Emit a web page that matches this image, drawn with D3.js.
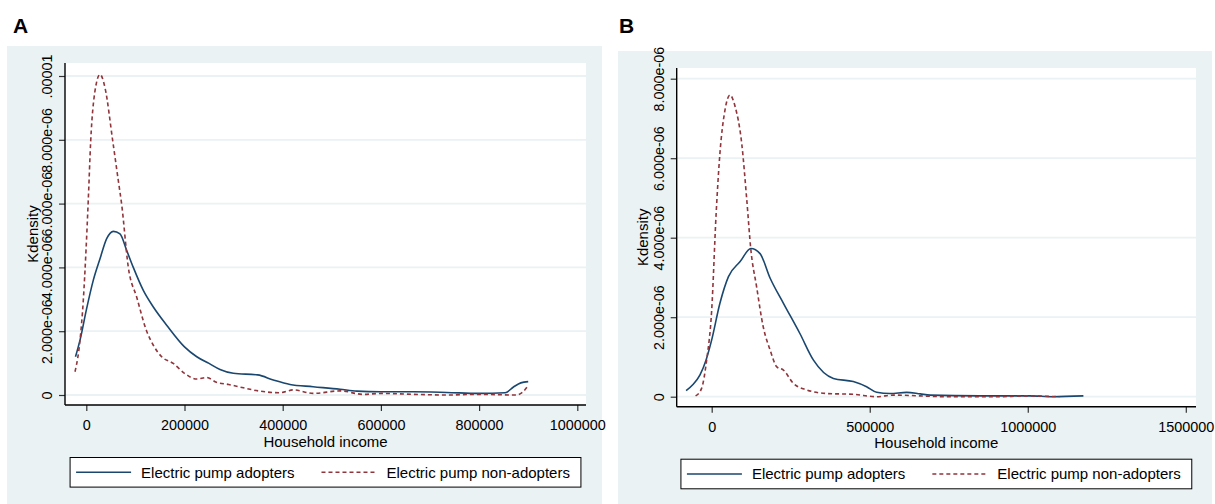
<!DOCTYPE html>
<html>
<head>
<meta charset="utf-8">
<script src="https://cdn.jsdelivr.net/npm/d3@7"></script>
<style>
  body { margin: 0; background: #fff; }
  text { font-family: "Liberation Sans", Arial, sans-serif; }
</style>
</head>
<body>
<div id="viz"></div>
<script>
// kernel densities of household income, adopters vs non-adopters
// densities are in units of 1e-6

// panel A
const incomeA_adopt = [-22000, -12800, 0, 14300, 27900, 41500, 55100, 68600, 82300, 95700, 116100, 136500, 163700, 200000, 225000, 250000, 272300, 299500, 349000, 380900, 414900, 462000, 517000, 551000, 600000, 666000, 734000, 800000, 853000, 870000, 885000, 900000];
const densA_adopt = [1.2, 1.72, 2.66, 3.6, 4.27, 4.9, 5.13, 5.05, 4.53, 4.0, 3.28, 2.76, 2.19, 1.51, 1.2, 0.99, 0.8, 0.68, 0.63, 0.47, 0.33, 0.26, 0.18, 0.12, 0.1, 0.1, 0.08, 0.05, 0.07, 0.25, 0.38, 0.42];
const incomeA_non = [-23000, -12800, -6100, -600, 4000, 9000, 17700, 28000, 38100, 53800, 65200, 72000, 85600, 102600, 123000, 136500, 153500, 177000, 200000, 225000, 245000, 265000, 290000, 310000, 350000, 394000, 422000, 462000, 517000, 564000, 600000, 666000, 734000, 800000, 876000, 888000, 900000];
const densA_non = [0.73, 1.72, 2.97, 4.53, 6.1, 7.97, 9.53, 10.05, 9.63, 7.97, 6.72, 5.98, 4.0, 3.07, 2.0, 1.56, 1.2, 0.99, 0.68, 0.5, 0.55, 0.4, 0.33, 0.26, 0.13, 0.07, 0.16, 0.05, 0.13, 0.02, 0.05, 0.02, 0.0, 0.02, 0.0, 0.08, 0.3];

// panel B
const incomeB_adopt = [-81000, -60000, -37000, -18000, 0, 26000, 53000, 90000, 124000, 153000, 185000, 227000, 279000, 322000, 385000, 448000, 490000, 522000, 564000, 617000, 660000, 691000, 849000, 1007000, 1080000, 1176000];
const densB_adopt = [0.15, 0.3, 0.55, 0.92, 1.43, 2.35, 3.02, 3.4, 3.73, 3.6, 2.98, 2.35, 1.59, 0.92, 0.46, 0.38, 0.25, 0.11, 0.08, 0.11, 0.07, 0.04, 0.02, 0.02, 0.0, 0.02];
const incomeB_non = [-51000, -32000, -16000, 0, 14000, 26000, 42000, 58000, 74000, 95000, 111000, 124000, 142000, 163000, 185000, 206000, 227000, 258000, 301000, 364000, 448000, 522000, 575000, 744000, 902000, 997000, 1100000];
const densB_non = [0.02, 0.21, 0.92, 2.18, 4.6, 6.12, 7.21, 7.59, 7.3, 6.37, 4.95, 3.69, 2.77, 1.76, 1.17, 0.75, 0.67, 0.34, 0.17, 0.08, 0.06, 0.0, 0.04, 0.0, 0.0, 0.02, 0.0];

const xTicksA = [0, 200000, 400000, 600000, 800000, 1000000];
const yTicksA = [0, 2, 4, 6, 8, 10];
const yLabelsA = ["0", "2.000e-06", "4.000e-06", "6.000e-06", "8.000e-06", ".00001"];
const xTicksB = [0, 500000, 1000000, 1500000];
const yTicksB = [0, 2, 4, 6, 8];
const yLabelsB = ["0", "2.000e-06", "4.000e-06", "6.000e-06", "8.000e-06"];

const seriesNames = ["Electric pump adopters", "Electric pump non-adopters"];
const xTitle = "Household income";
const yTitle = "Kdensity";

const colors = { adopt: "#1a476f", non: "#90353b", region: "#eaf2f3", grid: "#eaf2f3" };
const fontSize = 15;
const tickFont = 14.4;

const svg = d3.select('#viz').append('svg')
    .attr('width', 1215)
    .attr('height', 504);

function drawPanel(p) {
    const g = svg.append('g');

    g.append('text')
        .attr('x', p.letterX)
        .attr('y', 33)
        .attr('font-size', 21)
        .attr('font-weight', 'bold')
        .text(p.letter);

    // graph region
    g.append('rect')
        .attr('x', p.region[0]).attr('y', p.region[1])
        .attr('width', p.region[2] - p.region[0])
        .attr('height', p.region[3] - p.region[1])
        .attr('fill', colors.region);

    const [left, top, right, bottom] = p.plot;
    g.append('rect')
        .attr('x', left).attr('y', top)
        .attr('width', right - left).attr('height', bottom - top)
        .attr('fill', '#fff');

    const xScale = d3.scaleLinear().domain(p.xDomain).range(p.xRange);
    const yScale = d3.scaleLinear().domain(p.yDomain).range(p.yRange);

    // grid
    g.append('g').selectAll('line')
        .data(p.yTicks)
        .join('line')
        .attr('x1', left).attr('x2', right)
        .attr('y1', d => yScale(d)).attr('y2', d => yScale(d))
        .attr('stroke', colors.grid)
        .attr('stroke-width', 1.8);

    // curves
    const line = d3.line()
        .x(d => xScale(d[0]))
        .y(d => yScale(d[1]))
        .curve(d3.curveMonotoneX);

    g.append('path')
        .datum(d3.zip(p.adoptX, p.adoptY))
        .attr('fill', 'none')
        .attr('stroke', colors.adopt)
        .attr('stroke-width', 1.6)
        .attr('d', line);

    g.append('path')
        .datum(d3.zip(p.nonX, p.nonY))
        .attr('fill', 'none')
        .attr('stroke', colors.non)
        .attr('stroke-width', 1.6)
        .attr('stroke-dasharray', '4,3')
        .attr('d', line);

    // y axis
    const yAxis = g.append('g')
        .attr('transform', `translate(${left},0)`)
        .call(d3.axisLeft(yScale)
            .tickValues(p.yTicks)
            .tickFormat((d, i) => p.yLabels[i])
            .tickSize(6)
            .tickSizeOuter(0));
    yAxis.select('.domain').remove();
    yAxis.selectAll('.tick line').attr('stroke', '#333').attr('stroke-width', 1.2);
    yAxis.selectAll('.tick text')
        .attr('transform', 'rotate(-90)')
        .attr('text-anchor', 'middle')
        .attr('x', 0)
        .attr('y', -13)
        .attr('dy', 0)
        .attr('font-size', tickFont)
        .attr('font-family', '"Liberation Sans", Arial, sans-serif')
        .attr('fill', '#000');
    g.append('line')
        .attr('x1', left).attr('x2', left)
        .attr('y1', top).attr('y2', bottom)
        .attr('stroke', '#000').attr('stroke-width', 1.4);

    // x axis
    const xAxis = g.append('g')
        .attr('transform', `translate(0,${bottom})`)
        .call(d3.axisBottom(xScale)
            .tickValues(p.xTicks)
            .tickFormat(d3.format('d'))
            .tickSize(6)
            .tickSizeOuter(0));
    xAxis.select('.domain').remove();
    xAxis.selectAll('.tick line').attr('stroke', '#333').attr('stroke-width', 1.2);
    xAxis.selectAll('.tick text')
        .attr('y', 25)
        .attr('dy', 0)
        .attr('font-size', tickFont)
        .attr('font-family', '"Liberation Sans", Arial, sans-serif')
        .attr('fill', '#000');
    g.append('line')
        .attr('x1', left).attr('x2', right)
        .attr('y1', bottom).attr('y2', bottom)
        .attr('stroke', '#000').attr('stroke-width', 1.4);

    // axis titles
    const cx = (left + right) / 2;
    const cy = (top + bottom) / 2;
    g.append('text')
        .attr('x', cx).attr('y', bottom + 41.5)
        .attr('text-anchor', 'middle')
        .attr('font-size', fontSize)
        .text(xTitle);
    g.append('text')
        .attr('transform', `translate(${p.yTitleX},${cy}) rotate(-90)`)
        .attr('text-anchor', 'middle')
        .attr('font-size', fontSize)
        .text(yTitle);

    // legend
    const legend = g.append('g');
    const box = legend.append('rect')
        .attr('fill', '#fff')
        .attr('stroke', '#000')
        .attr('stroke-width', 1);
    const legTop = bottom + 52.5;
    const legH = 29.6;
    const midY = legTop + legH / 2;
    const sample = 55;
    const keys = [
        { name: seriesNames[0], color: colors.adopt, dash: null },
        { name: seriesNames[1], color: colors.non, dash: '4,3' }
    ];
    let cursor = 0;
    keys.forEach((k, i) => {
        const start = cursor + (i === 0 ? 6 : 27);
        legend.append('line')
            .attr('x1', start).attr('x2', start + sample)
            .attr('y1', midY).attr('y2', midY)
            .attr('stroke', k.color)
            .attr('stroke-width', 1.6)
            .attr('stroke-dasharray', k.dash);
        const tx = start + sample + 10;
        const t = legend.append('text')
            .attr('x', tx)
            .attr('y', midY + 5.4)
            .attr('font-size', fontSize)
            .text(k.name);
        cursor = tx + t.node().getComputedTextLength();
    });
    const legW = cursor + 11;
    const legLeft = cx - legW / 2;
    box.attr('x', 0).attr('y', legTop).attr('width', legW).attr('height', legH);
    legend.attr('transform', `translate(${legLeft},0)`);
}

drawPanel({
    letter: 'A', letterX: 13,
    region: [7, 46, 602, 504],
    plot: [65, 63, 586, 405],
    xDomain: [0, 1000000], xRange: [86.3, 577.3],
    yDomain: [0, 10], yRange: [395, 76],
    xTicks: xTicksA, yTicks: yTicksA, yLabels: yLabelsA,
    yTitleX: 37.5,
    adoptX: incomeA_adopt, adoptY: densA_adopt,
    nonX: incomeA_non, nonY: densA_non
});

drawPanel({
    letter: 'B', letterX: 619,
    region: [618, 51, 1212, 504],
    plot: [676.7, 68, 1196, 406.7],
    xDomain: [0, 1500000], xRange: [711.7, 1185.8],
    yDomain: [0, 8], yRange: [396.7, 78.7],
    xTicks: xTicksB, yTicks: yTicksB, yLabels: yLabelsB,
    yTitleX: 647.5,
    adoptX: incomeB_adopt, adoptY: densB_adopt,
    nonX: incomeB_non, nonY: densB_non
});
</script>
</body>
</html>
